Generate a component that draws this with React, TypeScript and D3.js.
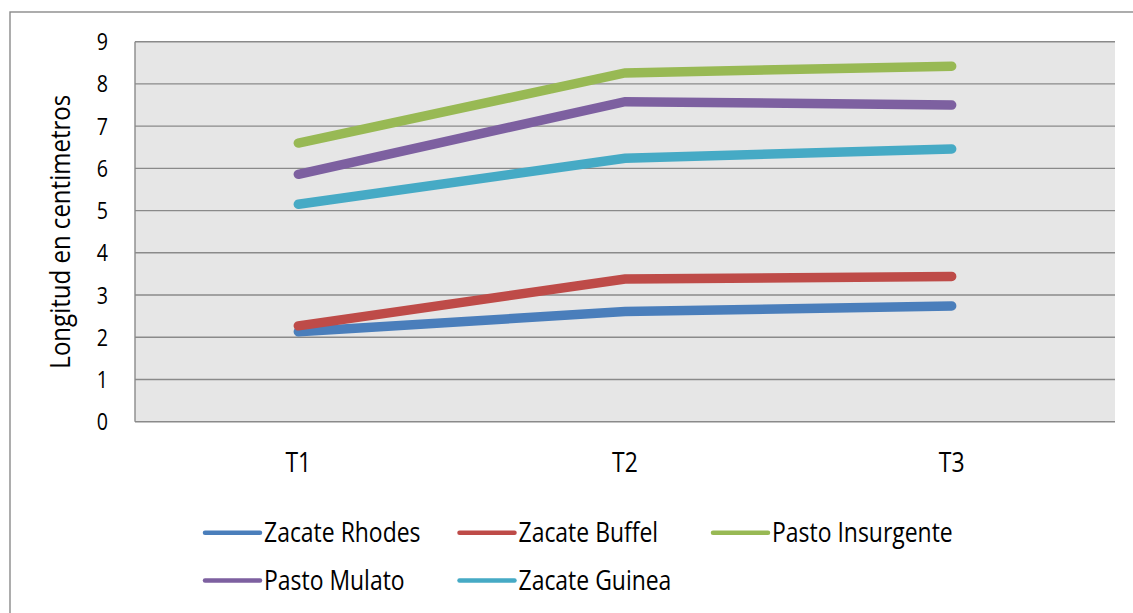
import React from "react";
import * as d3 from "d3";

// Treatments (x categories) and plant length per grass variety, in cm
const periods = ["T1", "T2", "T3"];
const yTicks = [0, 1, 2, 3, 4, 5, 6, 7, 8, 9];

const zacateRhodes = [2.13, 2.61, 2.74];
const zacateBuffel = [2.27, 3.38, 3.44];
const pastoInsurgente = [6.6, 8.26, 8.42];
const pastoMulato = [5.86, 7.58, 7.5];
const zacateGuinea = [5.15, 6.24, 6.46];

const seriesNames = ["Zacate Rhodes", "Zacate Buffel", "Pasto Insurgente", "Pasto Mulato", "Zacate Guinea"];
const seriesValues = [zacateRhodes, zacateBuffel, pastoInsurgente, pastoMulato, zacateGuinea];
const seriesColors = ["#4a7ebb", "#be4b48", "#98b954", "#7d60a0", "#46aac5"];

const W = 1133;
const H = 613;
const plot = { left: 135, right: 1115, top: 41.7, bottom: 421.7 };
const FONT = "'Open Sans', 'DejaVu Sans', sans-serif";
const SX = 0.85; // narrow glyph width

export default function App() {
  const x = d3.scaleBand<string>().domain(periods).range([plot.left, plot.right]);
  const y = d3.scaleLinear().domain([0, 9]).range([plot.bottom, plot.top]);
  const line = d3
    .line<number>()
    .x((_, i) => (x(periods[i]) as number) + x.bandwidth() / 2)
    .y((v) => y(v));

  const legendItems = seriesNames.map((name, i) => {
    const col = i < 3 ? i : i - 3;
    const row = i < 3 ? 0 : 1;
    const colX = [205, 459.5, 713][col];
    const rowY = [532.7, 580.5][row];
    return { name, color: seriesColors[i], lx: colX, ly: rowY };
  });

  return (
    <svg
      width={W}
      height={H}
      style={{ position: "absolute", left: 0, top: 0, background: "#fff" }}
      fontFamily={FONT}
    >
      {/* chart frame */}
      <rect x={10} y={12} width={1140} height={620} fill="#fff" stroke="#8a8a8a" strokeWidth={1.4} />

      {/* plot area */}
      <rect
        x={plot.left}
        y={plot.top}
        width={plot.right - plot.left}
        height={plot.bottom - plot.top}
        fill="#e6e6e6"
      />
      {yTicks.map((t) => (
        <line
          key={`g${t}`}
          x1={plot.left}
          x2={plot.right}
          y1={y(t)}
          y2={y(t)}
          stroke="#8a8a8a"
          strokeWidth={1.4}
        />
      ))}
      <line x1={plot.left} x2={plot.left} y1={plot.top} y2={plot.bottom} stroke="#8a8a8a" strokeWidth={1.4} />

      {/* y tick labels */}
      {yTicks.map((t) => (
        <text
          key={`t${t}`}
          transform={`translate(108,${y(t) + 8.5}) scale(0.82,1)`}
          textAnchor="end"
          fontSize={24}
          fill="#000"
        >
          {t}
        </text>
      ))}

      {/* y axis title */}
      <text
        transform={`translate(70,${(plot.top + plot.bottom) / 2}) rotate(-90) scale(0.89,1)`}
        textAnchor="middle"
        fontSize={27}
        fill="#000"
      >
        Longitud en centimetros
      </text>

      {/* category labels */}
      {periods.map((p) => (
        <text
          key={p}
          transform={`translate(${(x(p) as number) + x.bandwidth() / 2},472) scale(${SX},1)`}
          textAnchor="middle"
          fontSize={27}
          fill="#000"
        >
          {p}
        </text>
      ))}

      {/* series lines */}
      {seriesValues.map((vals, i) => (
        <path
          key={seriesNames[i]}
          d={line(vals) as string}
          fill="none"
          stroke={seriesColors[i]}
          strokeWidth={9.5}
          strokeLinecap="round"
          strokeLinejoin="miter"
        />
      ))}

      {/* legend */}
      {legendItems.map((it) => (
        <g key={it.name}>
          <line
            x1={it.lx}
            x2={it.lx + 55}
            y1={it.ly}
            y2={it.ly}
            stroke={it.color}
            strokeWidth={4.5}
            strokeLinecap="round"
          />
          <text
            transform={`translate(${it.lx + 59},${it.ly + 9}) scale(${SX},1)`}
            fontSize={27}
            fill="#000"
          >
            {it.name}
          </text>
        </g>
      ))}
    </svg>
  );
}
